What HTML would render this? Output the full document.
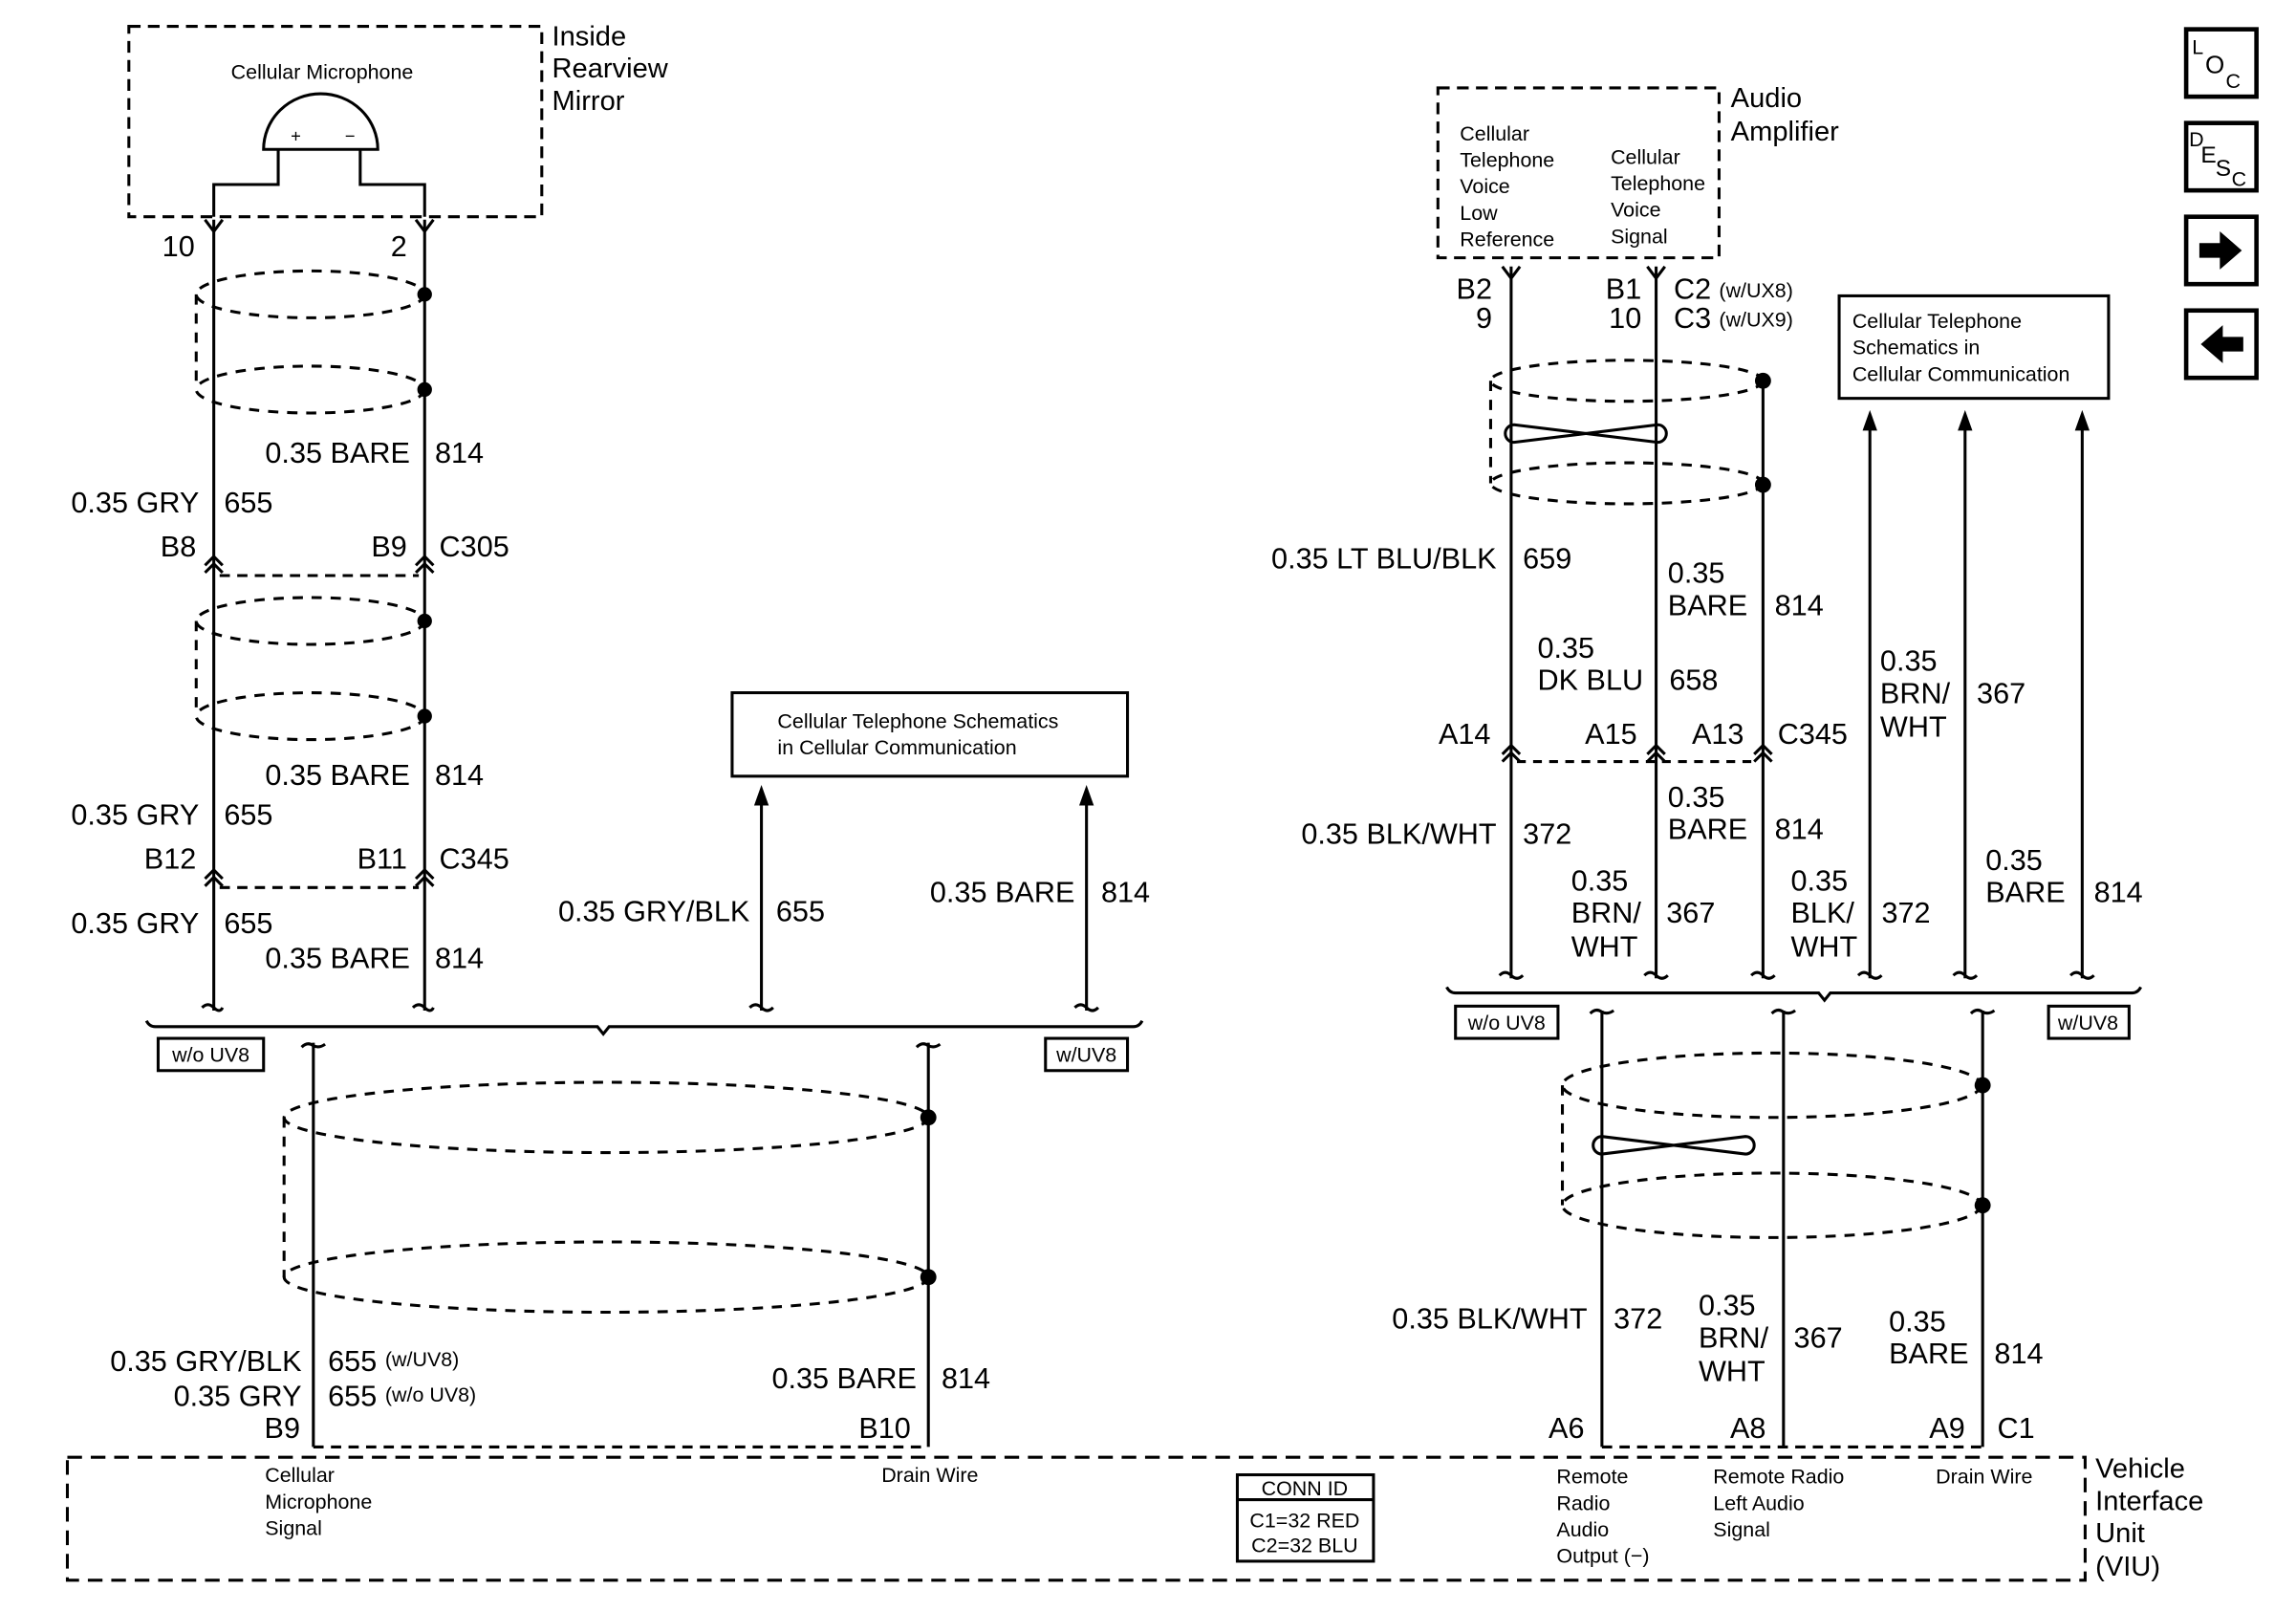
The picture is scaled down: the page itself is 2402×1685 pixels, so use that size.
<!DOCTYPE html>
<html><head><meta charset="utf-8"><style>
html,body{margin:0;padding:0;background:#fff;}
svg{display:block;}
text{font-family:"Liberation Sans",Arial,sans-serif;fill:#000;}
.l{font-size:20px;}
.s{font-size:14px;}
.xs{font-size:12px;}
</style></head><body>
<svg width="2402" height="1685" viewBox="0 0 1568 1100" preserveAspectRatio="none" xmlns="http://www.w3.org/2000/svg">
<g fill="none" stroke="#000" stroke-width="2">
<rect x="88" y="18" width="282" height="130" stroke-dasharray="8,5"/>
<path d="M180,102 A39,38 0 0 1 258,102 Z" fill="#fff"/>
<path d="M190,102 V126 H146 V148 M246,102 V126 H290 V148"/>
<path d="M146,150 V690 M290,150 V690"/>
<path d="M140,150 L146,158 L152,150 M284,150 L290,158 L296,150"/>
<path d="M140,386 L146,380 L152,386 M140,391 L146,385 L152,391 M284,386 L290,380 L296,386 M284,391 L290,385 L296,391"/>
<path d="M150,393 H286" stroke-dasharray="7,5"/>
<path d="M140,600 L146,594 L152,600 M140,605 L146,599 L152,605 M284,600 L290,594 L296,600 M284,605 L290,599 L296,605"/>
<path d="M150,606 H286" stroke-dasharray="7,5"/>
<g stroke-dasharray="7,6">
<ellipse cx="212" cy="201" rx="78" ry="16"/><ellipse cx="212" cy="266" rx="78" ry="16"/>
<path d="M134,201 V266"/>
<ellipse cx="212" cy="424" rx="78" ry="16"/><ellipse cx="212" cy="489" rx="78" ry="16"/>
<path d="M134,424 V489"/>
<ellipse cx="414" cy="763" rx="220" ry="24"/><ellipse cx="414" cy="872" rx="220" ry="24"/>
<path d="M194,763 V872"/>
</g>
<path d="M138,688 Q142,684 146,688 Q150,692 152,688 M282,688 Q286,684 290,688 Q294,692 296,688"/>
<path d="M100,697 Q102,701 106,701 H408 L412,706 L416,701 H774 Q778,701 780,697"/>
<rect x="108" y="709" width="72" height="22"/>
<rect x="714" y="709" width="56" height="22"/>
<path d="M520,690 V548 M742,690 V548"/>
<path d="M512,688 Q516,684 520,688 Q524,692 528,688 M734,688 Q738,684 742,688 Q746,692 750,688"/>
<rect x="500" y="473" width="270" height="57"/>
<path d="M214,712 V988 M634,712 V988"/>
<path d="M206,715 Q210,711 214,714 Q218,716 222,713 M626,715 Q630,711 634,714 Q638,716 642,713"/>
<path d="M214,988 H634 M1094,988 H1354" stroke-dasharray="7,5"/>
<rect x="46" y="995" width="1378" height="84" stroke-dasharray="10,6"/>
<rect x="845" y="1007" width="93" height="59"/>
<path d="M845,1024 H938"/>
<rect x="982" y="60" width="192" height="116" stroke-dasharray="8,5"/>
<path d="M1032,182 V668 M1131,182 V668 M1204,260 V668"/>
<path d="M1026,182 L1032,190 L1038,182 M1125,182 L1131,190 L1137,182"/>
<g stroke-dasharray="7,6">
<ellipse cx="1111" cy="260" rx="93" ry="14"/><ellipse cx="1111" cy="330" rx="93" ry="14"/>
<path d="M1018,260 V330"/>
<ellipse cx="1210" cy="741" rx="143" ry="22"/><ellipse cx="1210" cy="823" rx="143" ry="22"/>
<path d="M1067,741 V823"/>
</g>
<path d="M1034,290 L1132,302 A6,6 0 0 0 1132,290 L1034,302 A6,6 0 0 1 1034,290 Z"/>
<path d="M1094,776 L1192,788 A6,6 0 0 0 1192,776 L1094,788 A6,6 0 0 1 1094,776 Z"/>
<path d="M1026,515 L1032,509 L1038,515 M1026,520 L1032,514 L1038,520 M1125,515 L1131,509 L1137,515 M1125,520 L1131,514 L1137,520 M1198,515 L1204,509 L1210,515 M1198,520 L1204,514 L1210,520"/>
<path d="M1036,520 H1200" stroke-dasharray="6,5"/>
<path d="M1277,668 V292 M1342,668 V292 M1422,668 V292"/>
<rect x="1256" y="202" width="184" height="70"/>
<path d="M1024,666 Q1028,662 1032,666 Q1036,670 1040,666 M1123,666 Q1127,662 1131,666 Q1135,670 1139,666 M1196,666 Q1200,662 1204,666 Q1208,670 1212,666 M1269,666 Q1273,662 1277,666 Q1281,670 1285,666 M1334,666 Q1338,662 1342,666 Q1346,670 1350,666 M1414,666 Q1418,662 1422,666 Q1426,670 1430,666"/>
<path d="M988,674 Q990,678 994,678 H1242 L1246,683 L1250,678 H1456 Q1460,678 1462,674"/>
<rect x="994" y="687" width="70" height="22"/>
<rect x="1399" y="687" width="55" height="22"/>
<path d="M1094,690 V988 M1218,690 V988 M1354,690 V988"/>
<path d="M1086,692 Q1090,688 1094,691 Q1098,693 1102,690 M1210,692 Q1214,688 1218,691 Q1222,693 1226,690 M1346,692 Q1350,688 1354,691 Q1358,693 1362,690"/>
<g stroke-width="3"><rect x="1493" y="20" width="48" height="46"/><rect x="1493" y="84" width="48" height="46"/><rect x="1493" y="148" width="48" height="46"/><rect x="1493" y="212" width="48" height="46"/></g>
</g>
<g fill="#000">
<path d="M520,536 L515,550 L525,550 Z M742,536 L737,550 L747,550 Z M1277,280 L1272,294 L1282,294 Z M1342,280 L1337,294 L1347,294 Z M1422,280 L1417,294 L1427,294 Z"/>
<circle cx="290" cy="201" r="5"/><circle cx="290" cy="266" r="5"/>
<circle cx="290" cy="424" r="5"/><circle cx="290" cy="489" r="5"/>
<circle cx="634" cy="763" r="5.5"/><circle cx="634" cy="872" r="5.5"/>
<circle cx="1204" cy="260" r="5.5"/><circle cx="1204" cy="331" r="5.5"/>
<circle cx="1354" cy="741" r="5.5"/><circle cx="1354" cy="823" r="5.5"/>
<path d="M1502,166 H1516 V158 L1531,171 L1516,184 V176 H1502 Z"/>
<path d="M1532,230 H1518 V222 L1503,235 L1518,248 V240 H1532 Z"/>
</g>
<text x="1497" y="37" class="s">L</text><text x="1506" y="50" style="font-size:17px">O</text><text x="1520" y="60" class="s">C</text>
<text x="1495" y="100" class="s">D</text><text x="1503" y="111" style="font-size:16px">E</text><text x="1513" y="120" style="font-size:16px">S</text><text x="1524" y="127" class="s">C</text>

<text x="377" y="31" style="font-size:19px">Inside</text>
<text x="377" y="53" style="font-size:19px">Rearview</text>
<text x="377" y="75" style="font-size:19px">Mirror</text>
<text x="220" y="54" class="s" text-anchor="middle">Cellular Microphone</text>
<text x="202" y="97" class="xs" text-anchor="middle">+</text>
<text x="239" y="97" class="xs" text-anchor="middle">−</text>
<text x="133" y="175" class="l" text-anchor="end">10</text>
<text x="278" y="175" class="l" text-anchor="end">2</text>
<g class="l">
<text x="280" y="316" text-anchor="end">0.35 BARE</text><text x="297" y="316">814</text>
<text x="136" y="350" text-anchor="end">0.35 GRY</text><text x="153" y="350">655</text>
<text x="134" y="380" text-anchor="end">B8</text><text x="278" y="380" text-anchor="end">B9</text><text x="300" y="380">C305</text>
<text x="280" y="536" text-anchor="end">0.35 BARE</text><text x="297" y="536">814</text>
<text x="136" y="563" text-anchor="end">0.35 GRY</text><text x="153" y="563">655</text>
<text x="134" y="593" text-anchor="end">B12</text><text x="278" y="593" text-anchor="end">B11</text><text x="300" y="593">C345</text>
<text x="136" y="637" text-anchor="end">0.35 GRY</text><text x="153" y="637">655</text>
<text x="280" y="661" text-anchor="end">0.35 BARE</text><text x="297" y="661">814</text>
<text x="512" y="629" text-anchor="end">0.35 GRY/BLK</text><text x="530" y="629">655</text>
<text x="734" y="616" text-anchor="end">0.35 BARE</text><text x="752" y="616">814</text>
<text x="206" y="936" text-anchor="end">0.35 GRY/BLK</text><text x="224" y="936">655</text>
<text x="206" y="960" text-anchor="end">0.35 GRY</text><text x="224" y="960">655</text>
<text x="205" y="982" text-anchor="end">B9</text>
<text x="626" y="948" text-anchor="end">0.35 BARE</text><text x="643" y="948">814</text>
<text x="622" y="982" text-anchor="end">B10</text>
</g>
<text x="263" y="933" class="s">(w/UV8)</text>
<text x="263" y="957" class="s">(w/o UV8)</text>
<text x="144" y="725" class="s" text-anchor="middle">w/o UV8</text>
<text x="742" y="725" class="s" text-anchor="middle">w/UV8</text>
<text x="531" y="497" class="s">Cellular Telephone Schematics</text>
<text x="531" y="515" class="s">in Cellular Communication</text>

<text x="1431" y="1009" style="font-size:19px">Vehicle</text>
<text x="1431" y="1031" style="font-size:19px">Interface</text>
<text x="1431" y="1053" style="font-size:19px">Unit</text>
<text x="1431" y="1076" style="font-size:19px">(VIU)</text>
<g class="s">
<text x="181" y="1012">Cellular</text><text x="181" y="1030">Microphone</text><text x="181" y="1048">Signal</text>
<text x="602" y="1012">Drain Wire</text>
<text x="891" y="1021" text-anchor="middle">CONN ID</text>
<text x="891" y="1043" text-anchor="middle">C1=32 RED</text>
<text x="891" y="1060" text-anchor="middle">C2=32 BLU</text>
<text x="1063" y="1013">Remote</text><text x="1063" y="1031">Radio</text><text x="1063" y="1049">Audio</text><text x="1063" y="1067">Output (−)</text>
<text x="1170" y="1013">Remote Radio</text><text x="1170" y="1031">Left Audio</text><text x="1170" y="1049">Signal</text>
<text x="1322" y="1013">Drain Wire</text>
</g>

<text x="1182" y="73" style="font-size:19px">Audio</text>
<text x="1182" y="96" style="font-size:19px">Amplifier</text>
<g class="s">
<text x="997" y="96">Cellular</text><text x="997" y="114">Telephone</text><text x="997" y="132">Voice</text><text x="997" y="150">Low</text><text x="997" y="168">Reference</text>
<text x="1100" y="112">Cellular</text><text x="1100" y="130">Telephone</text><text x="1100" y="148">Voice</text><text x="1100" y="166">Signal</text>
<text x="1265" y="224">Cellular Telephone</text><text x="1265" y="242">Schematics in</text><text x="1265" y="260">Cellular Communication</text>
<text x="1029" y="703" text-anchor="middle">w/o UV8</text>
<text x="1426" y="703" text-anchor="middle">w/UV8</text>
</g>
<g class="l">
<text x="1019" y="204" text-anchor="end">B2</text><text x="1019" y="224" text-anchor="end">9</text>
<text x="1121" y="204" text-anchor="end">B1</text><text x="1121" y="224" text-anchor="end">10</text>
<text x="1143" y="204">C2</text><text x="1143" y="224">C3</text>
<text x="1022" y="388" text-anchor="end">0.35 LT BLU/BLK</text><text x="1040" y="388">659</text>
<text x="1139" y="398">0.35</text><text x="1139" y="420">BARE</text><text x="1212" y="420">814</text>
<text x="1050" y="449">0.35</text><text x="1050" y="471">DK BLU</text><text x="1140" y="471">658</text>
<text x="1018" y="508" text-anchor="end">A14</text><text x="1118" y="508" text-anchor="end">A15</text><text x="1191" y="508" text-anchor="end">A13</text><text x="1214" y="508">C345</text>
<text x="1022" y="576" text-anchor="end">0.35 BLK/WHT</text><text x="1040" y="576">372</text>
<text x="1139" y="551">0.35</text><text x="1139" y="573">BARE</text><text x="1212" y="573">814</text>
<text x="1073" y="608">0.35</text><text x="1073" y="630">BRN/</text><text x="1073" y="653">WHT</text><text x="1138" y="630">367</text>
<text x="1223" y="608">0.35</text><text x="1223" y="630">BLK/</text><text x="1223" y="653">WHT</text><text x="1285" y="630">372</text>
<text x="1284" y="458">0.35</text><text x="1284" y="480">BRN/</text><text x="1284" y="503">WHT</text><text x="1350" y="480">367</text>
<text x="1356" y="594">0.35</text><text x="1356" y="616">BARE</text><text x="1430" y="616">814</text>
<text x="1084" y="907" text-anchor="end">0.35 BLK/WHT</text><text x="1102" y="907">372</text>
<text x="1160" y="898">0.35</text><text x="1160" y="920">BRN/</text><text x="1160" y="943">WHT</text><text x="1225" y="920">367</text>
<text x="1290" y="909">0.35</text><text x="1290" y="931">BARE</text><text x="1362" y="931">814</text>
<text x="1082" y="982" text-anchor="end">A6</text><text x="1206" y="982" text-anchor="end">A8</text><text x="1342" y="982" text-anchor="end">A9</text><text x="1364" y="982">C1</text>
</g>
<text x="1174" y="203" class="s">(w/UX8)</text>
<text x="1174" y="223" class="s">(w/UX9)</text>
</svg>
</body></html>
